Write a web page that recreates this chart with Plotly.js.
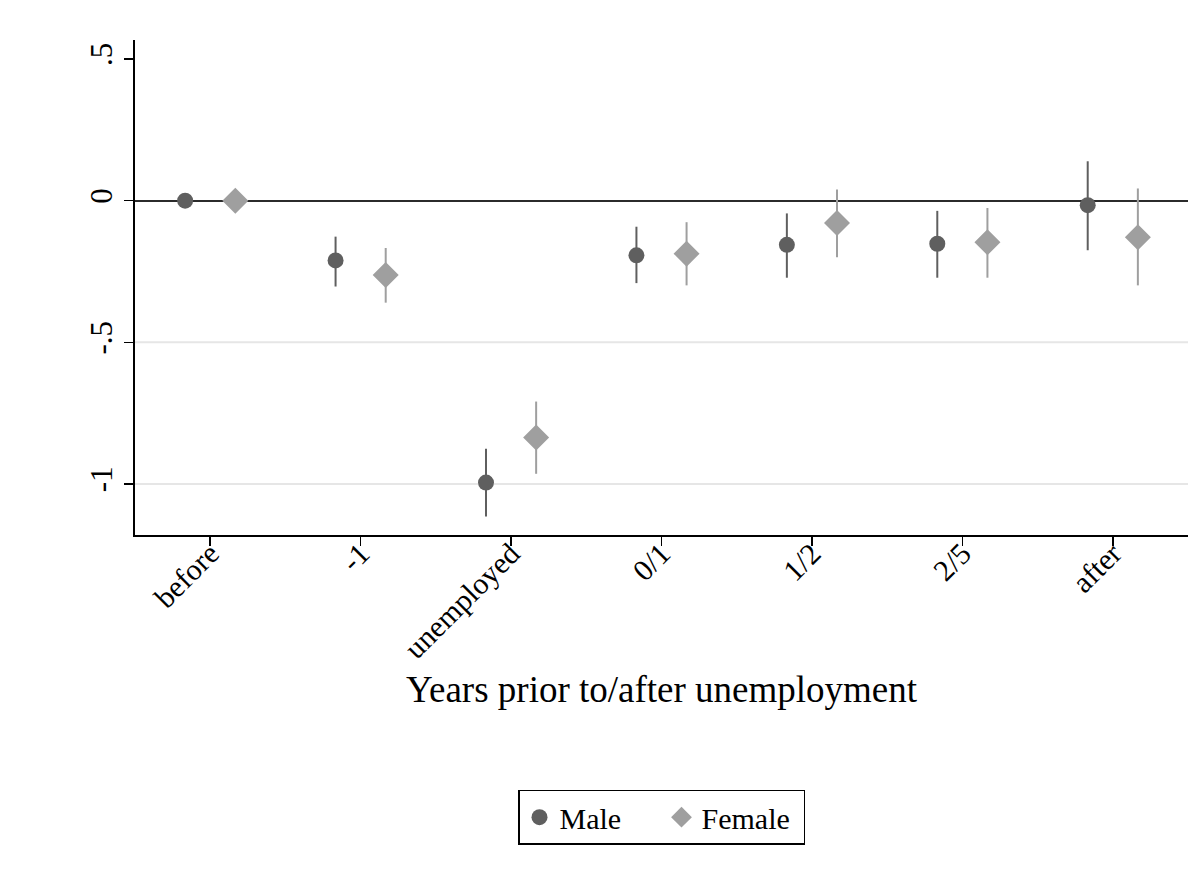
<!DOCTYPE html>
<html>
<head>
<meta charset="utf-8">
<script src="https://cdn.plot.ly/plotly-3.0.1.min.js"></script>
<style>html,body{margin:0;padding:0;background:#fff;}#chart{width:1201px;height:882px;}</style>
</head>
<body>
<div id="chart"></div>
<script>
// Categories (x positions 1..7)
const categories = ["before", "-1", "unemployed", "0/1", "1/2", "2/5", "after"];

// Male estimates and 95% CI bounds
const maleEst = [0, -0.211, -0.995, -0.193, -0.156, -0.152, -0.016];
const maleLo  = [0, -0.303, -1.115, -0.291, -0.272, -0.272, -0.175];
const maleHi  = [0, -0.127, -0.876, -0.092, -0.045, -0.036, 0.139];

// Female estimates and 95% CI bounds
const femaleEst = [0, -0.262, -0.836, -0.187, -0.079, -0.147, -0.129];
const femaleLo  = [0, -0.360, -0.964, -0.299, -0.200, -0.272, -0.299];
const femaleHi  = [0, -0.167, -0.709, -0.076, 0.039, -0.026, 0.043];

const yTickVals = [-1, -0.5, 0, 0.5];
const yTickText = ["-1", "-.5", "0", ".5"];
const gridVals = [-1, -0.5];
const xTitle = "Years prior to/after unemployment";

const offset = 1/3 * 0.5;
const pos = categories.map((c, i) => i + 1);

const font = "Liberation Serif, Times New Roman, serif";
const maleColor = "#5f5f5f";
const femaleColor = "#9f9f9f";

function errs(est, lo, hi) {
  return {
    type: "data", symmetric: false,
    array: est.map((v, i) => hi[i] - v),
    arrayminus: est.map((v, i) => v - lo[i]),
    width: 0, thickness: 2
  };
}

const traces = [
  {
    type: "scatter", mode: "markers", name: "Male",
    x: pos.map(p => p - offset), y: maleEst,
    marker: {symbol: "circle", size: 16, color: maleColor},
    error_y: Object.assign(errs(maleEst, maleLo, maleHi), {color: maleColor})
  },
  {
    type: "scatter", mode: "markers", name: "Female",
    x: pos.map(p => p + offset), y: femaleEst,
    marker: {symbol: "diamond", size: 20, color: femaleColor},
    error_y: Object.assign(errs(femaleEst, femaleLo, femaleHi), {color: femaleColor})
  }
];

const shapes = gridVals.map(v => ({
  type: "line", xref: "paper", x0: 0, x1: 1, yref: "y", y0: v, y1: v,
  line: {color: "#e6e6e6", width: 2}, layer: "below"
}));

const layout = {
  width: 1201, height: 882,
  paper_bgcolor: "#ffffff", plot_bgcolor: "#ffffff",
  margin: {l: 135, r: 13, t: 40, b: 347},
  font: {family: font, color: "#000"},
  showlegend: true,
  legend: {
    orientation: "h", x: 0.5, xanchor: "center", y: -0.570, yanchor: "middle",
    bordercolor: "#000", borderwidth: 1.5, font: {size: 30, family: font},
    itemwidth: 30, entrywidth: 97, entrywidthmode: "pixels"
  },
  xaxis: {
    range: [0.5, 7.5],
    tickmode: "array", tickvals: pos, ticktext: categories,
    tickangle: -45, tickfont: {size: 30, family: font},
    ticklabelstandoff: -22,
    ticks: "outside", ticklen: 9, tickwidth: 1.5, tickcolor: "#000",
    showline: true, linecolor: "#000", linewidth: 2,
    showgrid: false, zeroline: false,
    automargin: false
  },
  yaxis: {
    range: [-1.18, 0.567],
    tickmode: "array", tickvals: yTickVals, ticktext: yTickText,
    tickangle: -90, tickfont: {size: 31, family: font},
    ticks: "outside", ticklen: 9, tickwidth: 1.5, tickcolor: "#000",
    showline: true, linecolor: "#000", linewidth: 2,
    showgrid: false,
    zeroline: true, zerolinecolor: "#2b2b2b", zerolinewidth: 2
  },
  annotations: [{
    text: xTitle, xref: "paper", yref: "paper", x: 0.5, y: -0.313,
    xanchor: "center", yanchor: "middle", showarrow: false,
    font: {size: 37, family: font, color: "#000"}
  }],
  shapes: shapes
};

Plotly.newPlot("chart", traces, layout, {displayModeBar: false, staticPlot: true});
</script>
</body>
</html>
